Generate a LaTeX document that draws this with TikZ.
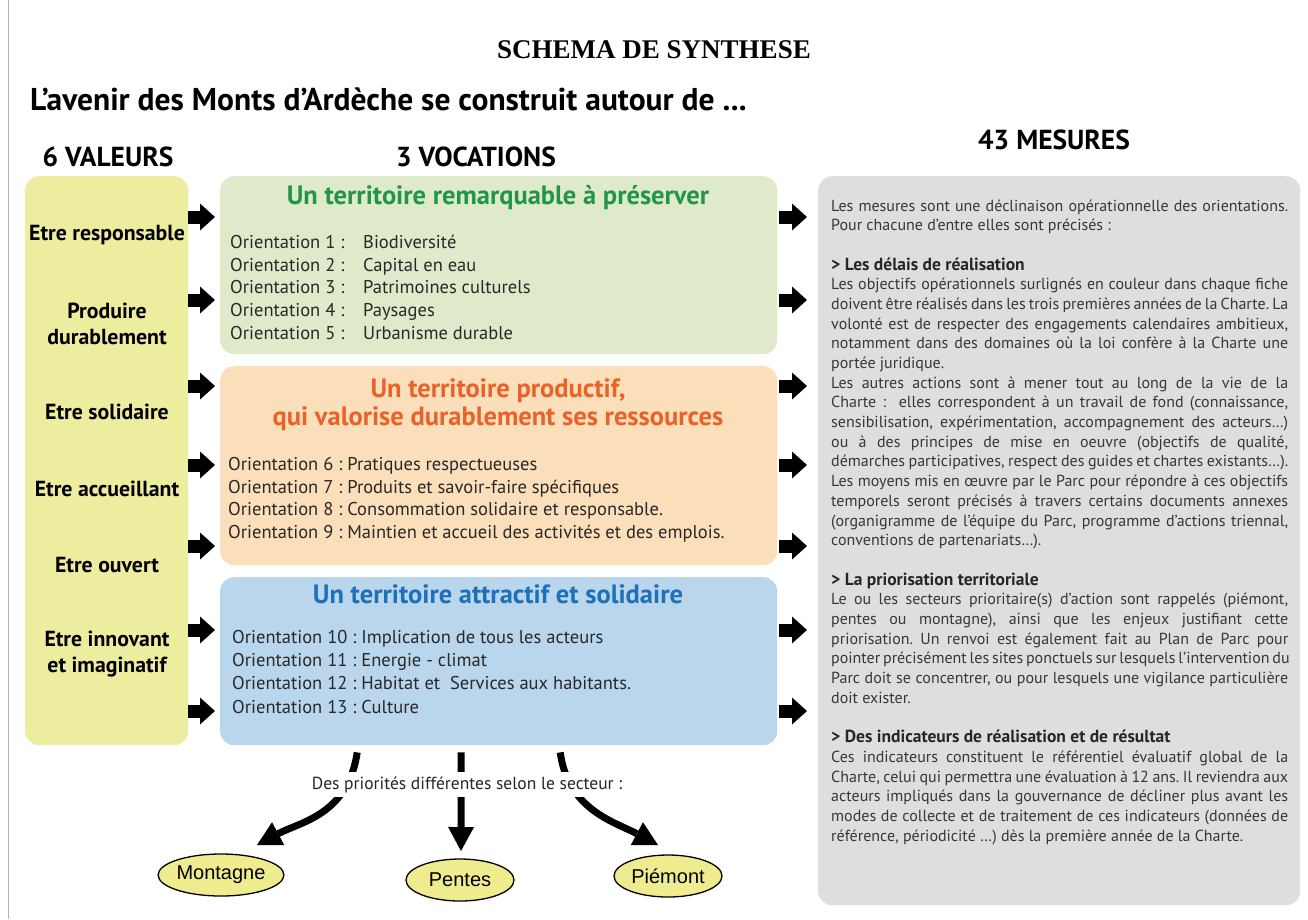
\documentclass[tikz,border=0pt]{standalone}
\usepackage{fontspec}
\setmainfont{PT Sans}
\newfontfamily\serifT{Liberation Serif}
\newfontfamily\arialF{Liberation Sans}
\usetikzlibrary{arrows.meta,shapes.geometric,calc}
\frenchspacing
\definecolor{valC}{RGB}{237,237,160}
\definecolor{greenC}{RGB}{222,234,202}
\definecolor{orangeC}{RGB}{251,222,186}
\definecolor{blueC}{RGB}{186,214,237}
\definecolor{grayC}{RGB}{222,222,224}
\definecolor{ellC}{RGB}{238,236,142}
\definecolor{gT}{RGB}{34,150,72}
\definecolor{oT}{RGB}{232,98,42}
\definecolor{bT}{RGB}{30,112,184}
\definecolor{txt}{RGB}{40,40,40}
\definecolor{rtxt}{RGB}{55,55,55}
\newcommand\jline[1]{\makebox[457pt][s]{#1}}
\newcommand\rline[2]{\node[rtext] (r#1) at (831,{211+19.69*#1}) {#2};}
\newcommand\rhead{\bfseries\fontsize{17.5}{19}\selectfont\color{black!85}}
\begin{document}
\begin{tikzpicture}[x=1pt,y=-1pt,
  panel/.style={rounded corners=14pt, inner sep=0pt, anchor=north west},
  vlab/.style={font=\bfseries\fontsize{21.8}{26}\selectfont, align=center, text=black},
  vtitle/.style={font=\bfseries\fontsize{26.5}{28}\selectfont, align=center},
  hd/.style={font=\bfseries\fontsize{27.5}{30}\selectfont, anchor=base, inner sep=0pt},
  orient/.style={font=\fontsize{18.5}{20}\selectfont, text=txt, anchor=base west, inner sep=0pt},
  rtext/.style={font=\fontsize{16}{19.7}\selectfont, text=rtxt, anchor=base west, inner sep=0pt},
  barrow/.style={line width=13pt, -{Triangle[length=15pt 0 0,width=27pt 0 0,line width=0pt 0 0]}},
  curv/.style={line width=7pt, -{Triangle[length=24pt 0 0,width=26pt 0 0,line width=0pt 0 0]}},
  ell/.style={ellipse, draw, line width=1.3pt, fill=ellC, minimum width=108pt, minimum height=42pt, inner sep=0pt, font=\arialF\fontsize{20}{24}\selectfont}
]
\useasboundingbox (0,0) rectangle (1308,919);
\fill[white] (0,0) rectangle (1308,919);
\draw[black!30, line width=1pt] (8,0) -- (8,919);

% headings
\node[font=\serifT\bfseries\fontsize{27}{30}\selectfont, anchor=base, inner sep=0pt] (t0) at (654,58) {SCHEMA DE SYNTHESE};
\node[font=\bfseries\fontsize{31.5}{34}\selectfont, anchor=base west, inner sep=0pt] (t1) at (30,110) {L’avenir des Monts d’Ardèche se construit autour de ...};
\node[hd] (h1) at (108,166) {6 VALEURS};
\node[hd] (h2) at (476,166) {3 VOCATIONS};
\node[hd] (h3) at (1054,149) {43 MESURES};

% panels
\node[panel, fill=valC, minimum width=163pt, minimum height=569pt] (val) at (25,176) {};
\node[panel, fill=greenC, minimum width=557pt, minimum height=178pt] (green) at (220,176) {};
\node[panel, fill=orangeC, minimum width=557pt, minimum height=199pt] (orange) at (220,366) {};
\node[panel, fill=blueC, minimum width=557pt, minimum height=168pt] (blue) at (220,577) {};
\node[panel, fill=grayC, minimum width=482pt, minimum height=729pt] (gray) at (818,176) {};

% values
\node[vlab] (v1) at (107,235) {Etre responsable};
\node[vlab] (v2) at (107,324) {Produire\\durablement};
\node[vlab] (v3) at (107,412) {Etre solidaire};
\node[vlab] (v4) at (107,489) {Etre accueillant};
\node[vlab] (v5) at (107,565) {Etre ouvert};
\node[vlab] (v6) at (107,654) {Etre innovant\\et imaginatif};

% vocations
\node[vtitle, text=gT] (gt) at (498,198) {Un territoire remarquable à préserver};
\node[vtitle, text=oT] (ot) at (498,405) {Un territoire productif,\\qui valorise durablement ses ressources};
\node[vtitle, text=bT] (bt) at (498,594) {Un territoire attractif et solidaire};

\node[orient] (g1) at (230,248) {\makebox[133pt][l]{Orientation 1 :}Biodiversité};
\node[orient] (g2) at (230,271) {\makebox[133pt][l]{Orientation 2 :}Capital en eau};
\node[orient] (g3) at (230,293) {\makebox[133pt][l]{Orientation 3 :}Patrimoines culturels};
\node[orient] (g4) at (230,316) {\makebox[133pt][l]{Orientation 4 :}Paysages};
\node[orient] (g5) at (230,339) {\makebox[133pt][l]{Orientation 5 :}Urbanisme durable};

\node[orient] (o6) at (228,470) {Orientation 6 : Pratiques respectueuses};
\node[orient] (o7) at (228,493) {Orientation 7 : Produits et savoir-faire spécifiques};
\node[orient] (o8) at (228,515) {Orientation 8 : Consommation solidaire et responsable.};
\node[orient] (o9) at (228,538) {Orientation 9 : Maintien et accueil des activités et des emplois.};

\node[orient] (b10) at (232,643) {Orientation 10 : Implication de tous les acteurs};
\node[orient] (b11) at (232,666) {Orientation 11 : Energie - climat};
\node[orient] (b12) at (232,689) {Orientation 12 : Habitat et\ \ Services aux habitants.};
\node[orient] (b13) at (232,713) {Orientation 13 : Culture};

% arrows
\coordinate (a1) at (0,217);
\coordinate (a2) at (0,300);
\coordinate (a3) at (0,386);
\coordinate (a4) at (0,465);
\coordinate (a5) at (0,546);
\coordinate (a6) at (0,630);
\coordinate (a7) at (0,711);
\draw[barrow, shorten >=5pt] (val.east |- a1) -- (green.west |- a1);
\draw[barrow, shorten >=5pt] (val.east |- a2) -- (green.west |- a2);
\draw[barrow, shorten >=5pt] (val.east |- a3) -- (orange.west |- a3);
\draw[barrow, shorten >=5pt] (val.east |- a4) -- (orange.west |- a4);
\draw[barrow, shorten >=5pt] (val.east |- a5) -- (orange.west |- a5);
\draw[barrow, shorten >=5pt] (val.east |- a6) -- (blue.west |- a6);
\draw[barrow, shorten >=5pt] (val.east |- a7) -- (blue.west |- a7);
\draw[barrow, shorten <=2pt, shorten >=11pt] (green.east |- a1) -- (gray.west |- a1);
\draw[barrow, shorten <=2pt, shorten >=11pt] (green.east |- a2) -- (gray.west |- a2);
\draw[barrow, shorten <=2pt, shorten >=11pt] (orange.east |- a3) -- (gray.west |- a3);
\draw[barrow, shorten <=2pt, shorten >=11pt] (orange.east |- a4) -- (gray.west |- a4);
\draw[barrow, shorten <=2pt, shorten >=11pt] (orange.east |- a5) -- (gray.west |- a5);
\draw[barrow, shorten <=2pt, shorten >=11pt] (blue.east |- a6) -- (gray.west |- a6);
\draw[barrow, shorten <=2pt, shorten >=11pt] (blue.east |- a7) -- (gray.west |- a7);

% sectors
\node[ell] (mont) at (221,875) {Montagne};
\node[ell] (pent) at (460,880) {Pentes};
\node[ell] (piem) at (668,876) {Piémont};
\coordinate (tipL) at (257,845);
\coordinate (tipM) at (461,851);
\coordinate (tipR) at (658,845);
\draw[curv] ($(blue.south)+(-141.5,7)$) .. controls (348,815) and (300,822) .. (tipL);
\draw[curv] ($(blue.south)+(-37.5,7)$) -- (tipM);
\draw[curv] ($(blue.south)+(61.5,7)$) .. controls (568,810) and (615,822) .. (tipR);
\node[fill=white, inner xsep=4pt, inner ysep=0pt, minimum height=25pt, text=black!85, font=\fontsize{17.5}{18}\selectfont] (prio) at (467,784.5) {Des priorités différentes selon le secteur :};

% measures text
\rline{0}{\jline{Les mesures sont une déclinaison opérationnelle des orientations.}}
\rline{1}{Pour chacune d’entre elles sont précisés :}
\rline{3}{\rhead > Les délais de réalisation}
\rline{4}{\jline{Les objectifs opérationnels surlignés en couleur dans chaque fiche}}
\rline{5}{\jline{doivent être réalisés dans les trois premières années de la Charte. La}}
\rline{6}{\jline{volonté est de respecter des engagements calendaires ambitieux,}}
\rline{7}{\jline{notamment dans des domaines où la loi confère à la Charte une}}
\rline{8}{portée juridique.}
\rline{9}{\jline{Les autres actions sont à mener tout au long de la vie de la}}
\rline{10}{\jline{Charte :\ \ elles correspondent à un travail de fond (connaissance,}}
\rline{11}{\jline{sensibilisation, expérimentation, accompagnement des acteurs…)}}
\rline{12}{\jline{ou à des principes de mise en oeuvre (objectifs de qualité,}}
\rline{13}{\jline{démarches participatives, respect des guides et chartes existants…).}}
\rline{14}{\jline{Les moyens mis en œuvre par le Parc pour répondre à ces objectifs}}
\rline{15}{\jline{temporels seront précisés à travers certains documents annexes}}
\rline{16}{\jline{(organigramme de l’équipe du Parc, programme d’actions triennal,}}
\rline{17}{conventions de partenariats…).}
\rline{19}{\rhead > La priorisation territoriale}
\rline{20}{\jline{Le ou les secteurs prioritaire(s) d’action sont rappelés (piémont,}}
\rline{21}{\jline{pentes ou montagne), ainsi que les enjeux justifiant cette}}
\rline{22}{\jline{priorisation. Un renvoi est également fait au Plan de Parc pour}}
\rline{23}{\jline{pointer précisément les sites ponctuels sur lesquels l’intervention du}}
\rline{24}{\jline{Parc doit se concentrer, ou pour lesquels une vigilance particulière}}
\rline{25}{doit exister.}
\rline{27}{\rhead > Des indicateurs de réalisation et de résultat}
\rline{28}{\jline{Ces indicateurs constituent le référentiel évaluatif global de la}}
\rline{29}{\jline{Charte, celui qui permettra une évaluation à 12 ans. Il reviendra aux}}
\rline{30}{\jline{acteurs impliqués dans la gouvernance de décliner plus avant les}}
\rline{31}{\jline{modes de collecte et de traitement de ces indicateurs (données de}}
\rline{32}{référence, périodicité …) dès la première année de la Charte.}
\end{tikzpicture}
\end{document}
